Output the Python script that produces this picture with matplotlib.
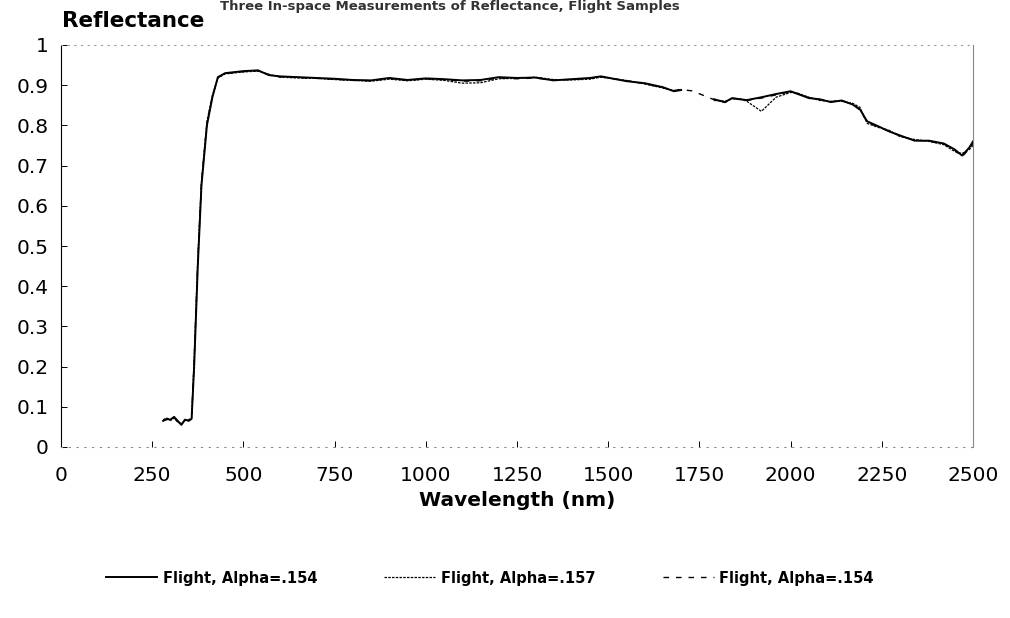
import matplotlib
matplotlib.use("Agg")
import matplotlib.pyplot as plt
import numpy as np

# ---- data ----
wl = [280, 290, 300, 310, 320, 330, 340, 350, 358, 365, 375, 385, 400, 415, 430,
      450, 500, 540, 570, 600, 650, 700, 750, 800, 850, 900, 950, 1000, 1050,
      1100, 1150, 1200, 1250, 1300, 1350, 1400, 1450, 1480, 1550, 1600, 1650,
      1680, 1700, 1730, 1790, 1820, 1840, 1860, 1880, 1920, 1960, 2000, 2020,
      2050, 2080, 2110, 2140, 2170, 2190, 2210, 2240, 2270, 2300, 2340, 2380,
      2420, 2450, 2470, 2490, 2500]

refl_a = [0.065, 0.070, 0.068, 0.075, 0.065, 0.055, 0.068, 0.065, 0.070, 0.20,
          0.45, 0.65, 0.80, 0.87, 0.920, 0.930, 0.935, 0.937, 0.925, 0.922,
          0.920, 0.918, 0.916, 0.913, 0.912, 0.918, 0.913, 0.917, 0.915, 0.912,
          0.913, 0.920, 0.918, 0.919, 0.912, 0.915, 0.918, 0.922, 0.910, 0.905,
          0.895, 0.885, 0.888, np.nan, 0.865, 0.858, 0.868, 0.865, 0.863, 0.870,
          0.878, 0.885, 0.878, 0.868, 0.865, 0.858, 0.862, 0.852, 0.840, 0.810,
          0.798, 0.785, 0.775, 0.762, 0.762, 0.755, 0.740, 0.725, 0.745, 0.760]

refl_b = [0.068, 0.072, 0.066, 0.072, 0.062, 0.058, 0.066, 0.068, 0.072, 0.22,
          0.47, 0.66, 0.81, 0.875, 0.918, 0.928, 0.933, 0.935, 0.927, 0.920,
          0.918, 0.917, 0.914, 0.912, 0.910, 0.915, 0.911, 0.915, 0.912, 0.905,
          0.906, 0.916, 0.917, 0.920, 0.914, 0.913, 0.915, 0.920, 0.912, 0.903,
          0.893, 0.887, 0.890, np.nan, 0.862, 0.860, 0.866, 0.867, 0.860, 0.835,
          0.870, 0.882, 0.880, 0.870, 0.862, 0.860, 0.860, 0.855, 0.845, 0.805,
          0.795, 0.788, 0.772, 0.765, 0.760, 0.752, 0.735, 0.730, 0.740, 0.750]

refl_c = [0.066, 0.068, 0.070, 0.073, 0.063, 0.057, 0.067, 0.066, 0.071, 0.21,
          0.46, 0.655, 0.805, 0.872, 0.919, 0.929, 0.934, 0.936, 0.926, 0.921,
          0.919, 0.917, 0.915, 0.912, 0.911, 0.917, 0.912, 0.916, 0.914, 0.910,
          0.911, 0.918, 0.916, 0.918, 0.913, 0.914, 0.917, 0.921, 0.911, 0.904,
          0.894, 0.886, 0.889, 0.886, 0.864, 0.857, 0.867, 0.866, 0.862, 0.868,
          0.876, 0.884, 0.879, 0.869, 0.864, 0.859, 0.861, 0.853, 0.838, 0.808,
          0.796, 0.786, 0.774, 0.763, 0.761, 0.754, 0.738, 0.722, 0.742, 0.755]

series_labels = ["Flight, Alpha=.154", "Flight, Alpha=.157", "Flight, Alpha=.154"]
xticks = [0, 250, 500, 750, 1000, 1250, 1500, 1750, 2000, 2250, 2500]
yticks = [0, 0.1, 0.2, 0.3, 0.4, 0.5, 0.6, 0.7, 0.8, 0.9, 1]
ytick_labels = ["0", "0.1", "0.2", "0.3", "0.4", "0.5", "0.6", "0.7", "0.8", "0.9", "1"]

plt.rcParams['font.family'] = ['DejaVu Sans']

fig = plt.figure(figsize=(10.1, 6.18), dpi=100)
ax = fig.add_axes([61/1010, 1-447/618, (973-61)/1010, (447-45)/618])

ax.plot(wl, refl_a, color='black', lw=1.4, ls='-', label=series_labels[0])
ax.plot(wl, refl_b, color='black', lw=0.9, ls=(0, (2, 1)), label=series_labels[1])
ax.plot(wl, refl_c, color='black', lw=1.0, ls=(0, (4, 5)), label=series_labels[2])

ax.set_xlim(0, 2500)
ax.set_ylim(0, 1)
ax.set_xticks(xticks)
ax.set_xticklabels([str(t) for t in xticks])
ax.set_yticks(yticks)
ax.set_yticklabels(ytick_labels)
ax.tick_params(axis='both', direction='in', length=4, width=0.7, labelsize=14.5,
               colors='black')
ax.tick_params(axis='x', pad=14)
ax.tick_params(axis='y', pad=9)

ax.spines['left'].set_color('black')
ax.spines['left'].set_linewidth(0.8)
ax.spines['bottom'].set_color('#888888')
ax.spines['bottom'].set_linestyle((0, (1, 6)))
ax.spines['bottom'].set_linewidth(0.8)
ax.spines['top'].set_color('#999999')
ax.spines['top'].set_linestyle((0, (1, 5)))
ax.spines['top'].set_linewidth(0.8)
ax.spines['right'].set_color('#888888')
ax.spines['right'].set_linewidth(0.8)

ax.set_xlabel("Wavelength (nm)", fontsize=14.5, fontweight='bold', labelpad=4)
fig.text(62/1010, 1-21/618, "Reflectance", fontsize=15.5, fontweight='bold',
         ha='left', va='center')
fig.text(0.445, 1.0, "Three In-space Measurements of Reflectance, Flight Samples",
         fontsize=9.5, fontweight='bold', ha='center', va='top', color='#333333')

leg = fig.legend(loc='center', bbox_to_anchor=(0.485, 1-578/618), ncol=3,
                 frameon=False, handlelength=3.5, handletextpad=0.4,
                 columnspacing=4.6, prop={'weight': 'bold', 'size': 10.5})

fig.savefig("out.png", dpi=100)
